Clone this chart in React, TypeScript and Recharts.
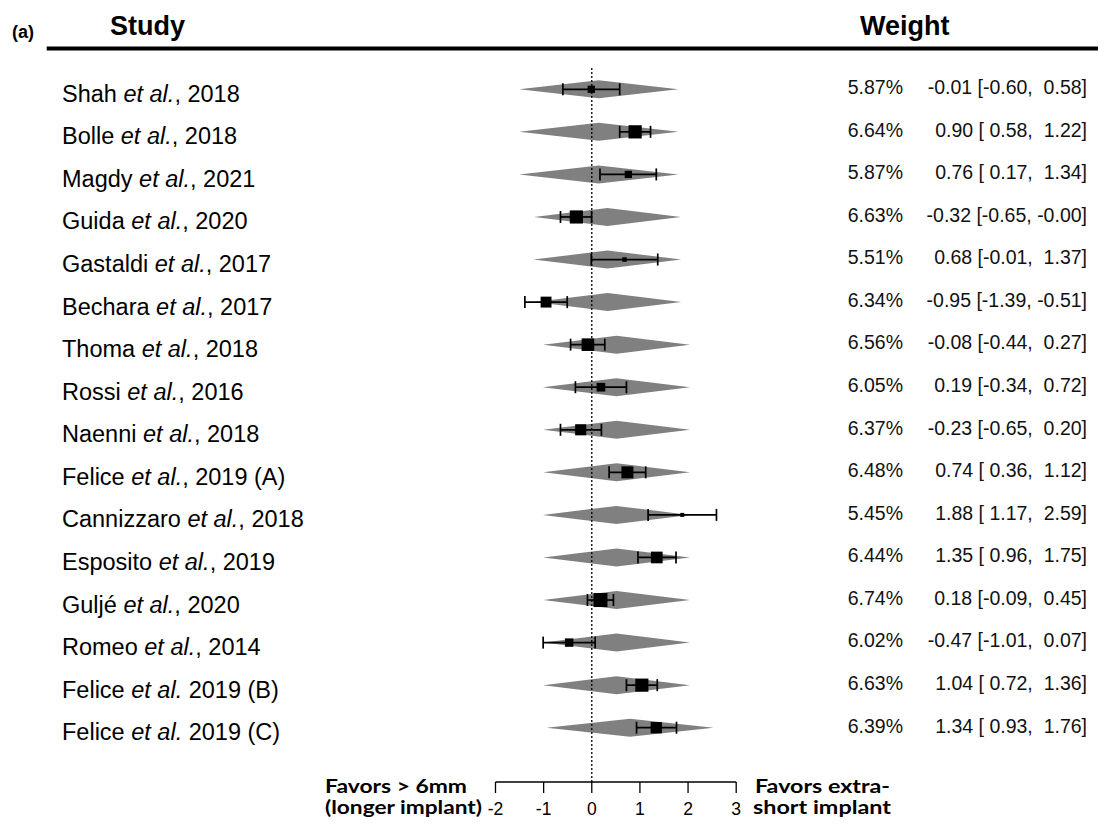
import React from 'react';
import { ComposedChart, Bar, Scatter, ErrorBar, XAxis, YAxis, ReferenceLine } from 'recharts';

// Study labels: author, then italic "et al.", then the citation tail
const authors = ['Shah', 'Bolle', 'Magdy', 'Guida', 'Gastaldi', 'Bechara', 'Thoma', 'Rossi', 'Naenni', 'Felice', 'Cannizzaro', 'Esposito', 'Guljé', 'Romeo', 'Felice', 'Felice'];
const citeTails = [', 2018', ', 2018', ', 2021', ', 2020', ', 2017', ', 2017', ', 2018', ', 2016', ', 2018', ', 2019 (A)', ', 2018', ', 2019', ', 2020', ', 2014', ' 2019 (B)', ' 2019 (C)'];

// Weight (%) of each study
const weights = [5.87, 6.64, 5.87, 6.63, 5.51, 6.34, 6.56, 6.05, 6.37, 6.48, 5.45, 6.44, 6.74, 6.02, 6.63, 6.39];
// Effect estimate and 95% CI
const estimates = [-0.01, 0.9, 0.76, -0.32, 0.68, -0.95, -0.08, 0.19, -0.23, 0.74, 1.88, 1.35, 0.18, -0.47, 1.04, 1.34];
const ciLow = [-0.6, 0.58, 0.17, -0.65, -0.01, -1.39, -0.44, -0.34, -0.65, 0.36, 1.17, 0.96, -0.09, -1.01, 0.72, 0.93];
const ciHigh = [0.58, 1.22, 1.34, -0.004, 1.37, -0.51, 0.27, 0.72, 0.2, 1.12, 2.59, 1.75, 0.45, 0.07, 1.36, 1.76];
// Grey diamond extent per row
const diamondLow = [-1.51, -1.51, -1.51, -1.2, -1.21, -1.2, -1.01, -1.02, -1.01, -1.01, -1.02, -1.01, -1.01, -1.01, -1.01, -0.94];
const diamondHigh = [1.8, 1.8, 1.8, 1.85, 1.86, 1.86, 2.04, 2.04, 2.04, 2.04, 2.04, 2.04, 2.04, 2.04, 2.04, 2.53];

const axisTicks = [-2, -1, 0, 1, 2, 3];

const studyKeys = authors.map((a, i) => `${a} et al.${citeTails[i]}`);

const rows = studyKeys.map((study, i) => ({
  study,
  est: estimates[i],
  err: [estimates[i] - ciLow[i], ciHigh[i] - estimates[i]],
  diamond: [diamondLow[i], diamondHigh[i]],
  weight: weights[i],
}));

const SANS = '"Liberation Sans", Arial, sans-serif';
const CAL = 'Lato, "Open Sans", sans-serif';

const pad = (v: number) => {
  const s = v.toFixed(2);
  return s.startsWith('-') ? s : ' ' + s;
};

const Diamond = (props: any) => {
  const { x, y, width, height } = props;
  if (x == null || width == null) return null;
  const cy = y + height / 2;
  const half = 9;
  const pts = `${x},${cy} ${x + width / 2},${cy - half} ${x + width},${cy} ${x + width / 2},${cy + half}`;
  return <polygon points={pts} fill="#808080" stroke="none" />;
};

const WeightSquare = (props: any) => {
  const { cx, cy, payload } = props;
  if (cx == null || cy == null) return null;
  const side = 4 + (payload.weight - 5.45) * 7.75;
  return <rect x={cx - side / 2} y={cy - side / 2} width={side} height={side} fill="#000" />;
};

const RowTick = (props: any) => {
  const { y, payload } = props;
  const i = studyKeys.indexOf(payload.value);
  if (i < 0) return null;
  const ciText = `${pad(estimates[i])} [${pad(ciLow[i])}, ${pad(ciHigh[i])}]`;
  return (
    <g>
      <text x={54} y={y + 12.5} fontSize={23.5} fontFamily={SANS} fill="#000">
        {authors[i]}{' '}
        <tspan fontStyle="italic">et al.</tspan>
        {citeTails[i]}
      </text>
      <text x={895} y={y + 4.8} textAnchor="end" fontSize={19.5} fontFamily={SANS} fill="#111">
        {weights[i].toFixed(2)}%
      </text>
      <text x={1079} y={y + 4.8} textAnchor="end" fontSize={19.5} fontFamily={SANS} fill="#111" style={{ whiteSpace: 'pre' }}>
        {ciText}
      </text>
    </g>
  );
};

export default function App() {
  return (
    <div style={{ position: 'relative', width: 1090, height: 811 }}>
      <ComposedChart
        layout="vertical"
        width={1090}
        height={811}
        data={rows}
        margin={{ top: 60, right: 361.8, bottom: 7, left: 486.5 }}
      >
        <XAxis
          type="number"
          dataKey="est"
          domain={[-2, 3]}
          ticks={axisTicks}
          allowDataOverflow
          interval={0}
          height={30}
          tickSize={11}
          tickMargin={10}
          axisLine={{ stroke: '#000', strokeWidth: 1.3 }}
          tickLine={{ stroke: '#000', strokeWidth: 1.3 }}
          tick={{ fill: '#000', fontSize: 17.5, fontFamily: SANS }}
        />
        <YAxis
          type="category"
          dataKey="study"
          width={1}
          interval={0}
          axisLine={false}
          tickLine={false}
          allowDuplicatedCategory={false}
          padding={{ top: 0, bottom: 33 }}
          tick={<RowTick />}
        />
        <Bar dataKey="diamond" shape={<Diamond />} isAnimationActive={false} legendType="none" />
        <ReferenceLine x={0} stroke="#000" strokeWidth={1.3} strokeDasharray="2 2" />
        <Scatter dataKey="est" shape={<WeightSquare />} isAnimationActive={false} legendType="none">
          <ErrorBar dataKey="err" direction="x" width={6} stroke="#000" strokeWidth={1.7} />
        </Scatter>
      </ComposedChart>
      <svg
        width={1090}
        height={811}
        style={{ position: 'absolute', left: 0, top: 0, overflow: 'visible', pointerEvents: 'none' }}
      >
        <text x={4} y={30} fontSize={18} fontWeight="bold" fontFamily={SANS}>(a)</text>
        <text x={102} y={27} fontSize={27} fontWeight="bold" fontFamily={SANS}>Study</text>
        <text x={852} y={27} fontSize={27} fontWeight="bold" fontFamily={SANS}>Weight</text>
        <line x1={38.7} x2={1100} y1={40.5} y2={40.5} stroke="#000" strokeWidth={4} />
        <text x={317} y={785} fontSize={19} fontWeight="bold" fontFamily={CAL} textLength={142} lengthAdjust="spacingAndGlyphs">Favors &gt; 6mm</text>
        <text x={317} y={806} fontSize={19} fontWeight="bold" fontFamily={CAL} textLength={157} lengthAdjust="spacingAndGlyphs">(longer implant)</text>
        <text x={747} y={785} fontSize={19} fontWeight="bold" fontFamily={CAL} textLength={135} lengthAdjust="spacingAndGlyphs">Favors extra-</text>
        <text x={745} y={806} fontSize={19} fontWeight="bold" fontFamily={CAL} textLength={138} lengthAdjust="spacingAndGlyphs">short implant</text>
      </svg>
    </div>
  );
}
